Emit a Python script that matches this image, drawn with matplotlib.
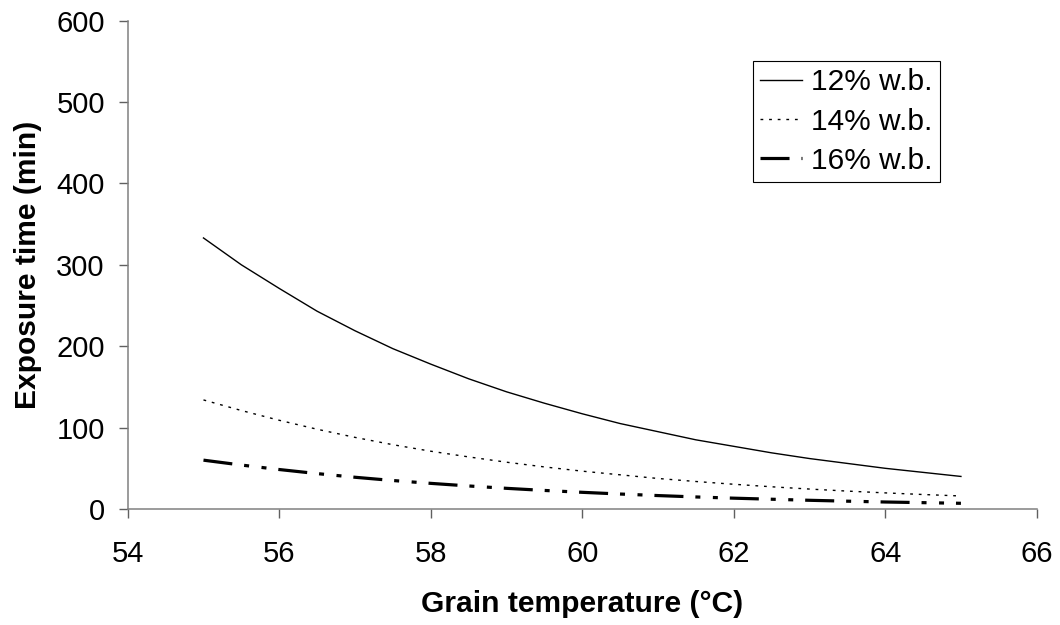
import matplotlib
matplotlib.use("Agg")
import matplotlib.pyplot as plt

plt.rcParams['font.family'] = ['Liberation Sans', 'DejaVu Sans']
plt.rcParams['lines.scale_dashes'] = False

# grain temperature (deg C), read every 0.5 degree
temp = [55.0, 55.5, 56.0, 56.5, 57.0, 57.5, 58.0, 58.5, 59.0, 59.5, 60.0,
        60.5, 61.0, 61.5, 62.0, 62.5, 63.0, 63.5, 64.0, 64.5, 65.0]

# exposure time (min)
mc12 = [333, 300, 271, 243, 219, 197, 178, 160, 144, 130, 117,
        105, 95, 85, 77, 69, 62, 56, 50, 45, 40]
mc14 = [134, 121, 109, 98, 88, 79, 71, 64, 57.5, 51.7, 46.5,
        42, 37.5, 33.8, 30.4, 27.3, 24.5, 22, 19.8, 17.8, 16]
mc16 = [60, 54, 48.5, 43.5, 39, 35, 31.5, 28.3, 25.4, 22.8, 20.5,
        18.4, 16.5, 14.8, 13.3, 12, 10.7, 9.6, 8.6, 7.8, 7]

labels = ['12% w.b.', '14% w.b.', '16% w.b.']
xticks = [54, 56, 58, 60, 62, 64, 66]
yticks = [0, 100, 200, 300, 400, 500, 600]

fig = plt.figure(figsize=(10.6, 6.25), dpi=100)
ax = fig.add_axes([0.1205, 0.1856, 0.8575, 0.7814])

ax.plot(temp, mc12, color='black', lw=1.0, label=labels[0])
ax.plot(temp, mc14, color='black', lw=1.0, dashes=(2.0, 4.2), label=labels[1])
ax.plot(temp, mc16, color='black', lw=2.3,
        dashes=(20.9, 8.6, 3.6, 9.0, 3.6, 8.6), label=labels[2])

ax.set_xlim(54, 66)
ax.set_ylim(0, 600)
ax.set_xticks(xticks)
ax.set_yticks(yticks)

for s in ['top', 'right']:
    ax.spines[s].set_visible(False)
for s in ['left', 'bottom']:
    ax.spines[s].set_color('#808080')
    ax.spines[s].set_linewidth(1.1)
ax.tick_params(axis='both', direction='out', length=6.5, width=1.0,
               color='#606060', labelsize=21)
ax.tick_params(axis='x', pad=16)
ax.tick_params(axis='y', pad=10)

ax.set_xlabel('Grain temperature (°C)', fontsize=21.6, fontweight='bold')
ax.set_ylabel('Exposure time (min)', fontsize=21.6, fontweight='bold')
ax.xaxis.set_label_coords(0.5, -0.166)
ax.yaxis.set_label_coords(-0.094, 0.5)

leg = ax.legend(loc='upper left', bbox_to_anchor=(753 / 1060, 1 - 61 / 625),
                bbox_transform=fig.transFigure, borderaxespad=0,
                fontsize=21.5, handlelength=1.4, handletextpad=0.3,
                labelspacing=0.375, borderpad=0.25, fancybox=False,
                framealpha=1, edgecolor='black')
leg.get_frame().set_linewidth(0.8)

fig.savefig('out.png', dpi=100)
